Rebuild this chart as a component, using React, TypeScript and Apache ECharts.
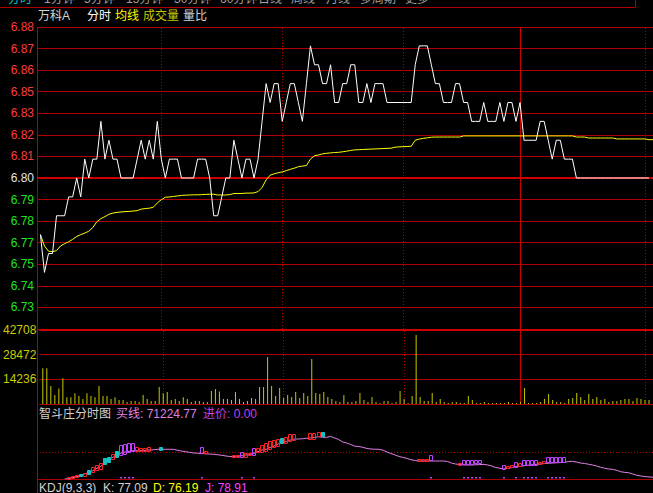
import React, { useEffect, useRef } from 'react';
import * as echarts from 'echarts';

const PRE_CLOSE = 6.8;
const STEP = 0.08 / 7;
const VOL_TICK = 14236;
const VOL_MAX = 42708;

// price per minute (index 0 = 9:30)
const price = [
  6.77, 6.75, 6.76, 6.76, 6.78, 6.78, 6.78, 6.79, 6.79, 6.80,
  6.79, 6.81, 6.80, 6.81, 6.81, 6.83, 6.81, 6.82, 6.81, 6.81,
  6.80, 6.80, 6.80, 6.80, 6.81, 6.82, 6.81, 6.82, 6.81, 6.83,
  6.81, 6.80, 6.81, 6.81, 6.81, 6.80, 6.80, 6.80, 6.80, 6.81,
  6.81, 6.81, 6.80, 6.78, 6.78, 6.79, 6.80, 6.80, 6.82, 6.81,
  6.80, 6.81, 6.81, 6.80, 6.81, 6.83, 6.85, 6.84, 6.85, 6.85,
  6.83, 6.84, 6.85, 6.85, 6.84, 6.83, 6.85, 6.87, 6.86, 6.86,
  6.85, 6.85, 6.86, 6.84, 6.84, 6.85, 6.85, 6.86, 6.86, 6.84,
  6.84, 6.85, 6.84, 6.85, 6.85, 6.85, 6.84, 6.84, 6.84, 6.84,
  6.84, 6.84, 6.84, 6.86, 6.87, 6.87, 6.87, 6.86, 6.85, 6.85,
  6.84, 6.84, 6.84, 6.85, 6.85, 6.84, 6.84, 6.83, 6.83, 6.83,
  6.84, 6.83, 6.83, 6.83, 6.84, 6.83, 6.84, 6.84, 6.83, 6.84,
  6.82, 6.82, 6.82, 6.82, 6.83, 6.83, 6.82, 6.81, 6.82, 6.82,
  6.81, 6.81, 6.81, 6.80, 6.80, 6.80, 6.80, 6.80, 6.80, 6.80,
  6.80, 6.80, 6.80, 6.80, 6.80, 6.80, 6.80, 6.80, 6.80, 6.80,
  6.80, 6.80,
];

// average price per minute
const avgPrice = [
  6.7700, 6.7640, 6.7612, 6.7610, 6.7615, 6.7640, 6.7652, 6.7662, 6.7675, 6.7690,
  6.7700, 6.7708, 6.7718, 6.7738, 6.7768, 6.7785, 6.7795, 6.7808, 6.7814, 6.7818,
  6.7820, 6.7822, 6.7823, 6.7825, 6.7827, 6.7835, 6.7838, 6.7840, 6.7845, 6.7868,
  6.7885, 6.7898, 6.7900, 6.7902, 6.7905, 6.7908, 6.7909, 6.7910, 6.7911, 6.7911,
  6.7912, 6.7913, 6.7914, 6.7914, 6.7910, 6.7910, 6.7910, 6.7912, 6.7918, 6.7918,
  6.7918, 6.7920, 6.7920, 6.7921, 6.7928, 6.7950, 6.7990, 6.8015, 6.8022, 6.8028,
  6.8032, 6.8039, 6.8046, 6.8052, 6.8060, 6.8063, 6.8066, 6.8100, 6.8118, 6.8122,
  6.8128, 6.8131, 6.8133, 6.8135, 6.8136, 6.8139, 6.8142, 6.8146, 6.8149, 6.8150,
  6.8151, 6.8152, 6.8153, 6.8154, 6.8155, 6.8156, 6.8157, 6.8158, 6.8163, 6.8165,
  6.8166, 6.8167, 6.8168, 6.8200, 6.8206, 6.8210, 6.8213, 6.8216, 6.8217, 6.8217,
  6.8217, 6.8217, 6.8217, 6.8217, 6.8217, 6.8223, 6.8223, 6.8223, 6.8223, 6.8223,
  6.8223, 6.8223, 6.8223, 6.8223, 6.8223, 6.8223, 6.8223, 6.8223, 6.8223, 6.8223,
  6.8223, 6.8223, 6.8223, 6.8223, 6.8223, 6.8223, 6.8223, 6.8223, 6.8223, 6.8223,
  6.8223, 6.8223, 6.8223, 6.8217, 6.8217, 6.8217, 6.8212, 6.8212, 6.8212, 6.8212,
  6.8212, 6.8212, 6.8212, 6.8207, 6.8207, 6.8207, 6.8207, 6.8207, 6.8207, 6.8207,
  6.8207, 6.8203, 6.8203,
];

// volume per minute
const volume = [
  20600, 20600, 10400, 5200, 9000, 14800, 3850, 3850, 6150, 4600,
  2900, 6150, 4600, 3850, 10400, 4600, 4600, 2900, 3850, 2300,
  2300, 1150, 1700, 1700, 1150, 5200, 2900, 1700, 1700, 9800,
  6150, 6900, 2300, 2900, 1700, 3850, 2900, 1150, 1700, 1700,
  1150, 1150, 7500, 8650, 7200, 2900, 2900, 2300, 6900, 2900,
  1150, 1700, 3450, 2900, 9800, 9800, 27100, 10400, 4600, 9250,
  3450, 5200, 4050, 6900, 3450, 6350, 4600, 26000, 6350, 5750,
  6900, 4050, 2900, 1700, 1150, 5200, 1150, 1150, 1700, 6350,
  2300, 1150, 4050, 1150, 600, 1700, 1700, 600, 1150, 7500,
  2900, 600, 4600, 39800, 4050, 1700, 1700, 6350, 1150, 2900,
  1150, 600, 1150, 1150, 600, 600, 4600, 2300, 600, 600,
  1150, 600, 600, 600, 600, 600, 1150, 600, 600, 1150,
  9250, 600, 600, 600, 1150, 2900, 5750, 2300, 1150, 1150,
  600, 2900, 3450, 6350, 4050, 2300, 5750, 2900, 4050, 2300,
  2900, 1150, 1700, 1700, 2300, 2900, 2900, 1700, 3450, 2900,
  2300, 2300,
];

// 智斗庄 indicator line (pane units 0..100), starts at minute 6
const zdzStart = 6;
const zdzLine = [
  0, 0.7, 1.7, 3.3,
  4.4, 6.7, 8.9, 11, 14.3, 17, 21.3, 25.3, 29, 32,
  34.7, 36, 37, 37.7, 37.7, 37.7, 38.3, 38.7, 39, 39.6,
  39.6, 39.6, 39.6, 39.6, 38.3, 37.3, 36.4, 35.6, 34.7, 34.3,
  34, 33.6, 33.2, 33, 32.3, 31.6, 30.7, 30, 29.7, 30.4,
  31, 32, 33, 34.4, 36.4, 38.7, 39.6, 42, 44, 46.7,
  48, 50, 52, 53.3, 53.3, 53.7, 54.3, 54.7, 55.3, 56.3,
  55.6, 55.6, 56.7, 54.7, 52.7, 49.3, 48, 46, 43.7, 43.3,
  42.3, 40.7, 40, 39.7, 39.6, 38.4, 36, 34, 32, 30,
  28.7, 27.3, 25.6, 24.7, 24, 24, 24, 24, 24, 24,
  24, 23.3, 21.3, 20, 19.3, 18.7, 18.7, 18.7, 19, 19.2,
  19.5, 18.7, 17.3, 15.3, 14.3, 13.3, 14.3, 15.3, 16.4, 16.7,
  17.7, 18.3, 19, 19.6, 20, 20.7, 21, 21.3, 21.6, 21.9,
  22.1, 23.3, 23.6, 22.7, 21.3, 20.7, 19.7, 18.7, 17.3, 15.6,
  14.3, 13.3, 12.9, 11.6, 9.7, 8.8, 8.3, 6.7, 4.9, 4,
  3.3, 2.7, 2.3,
];

// boxes: [minute, low, high, kind] kind 0 red hollow, 1 cyan filled, 2 magenta hollow
const zdzBoxes = [
  [7, 0, 2.3, 0], [8, 0.4, 4, 0], [9, 1.3, 5.3, 0], [10, 2.3, 6.7, 1], [11, 3.1, 8.4, 0],
  [12, 5.7, 12, 1], [13, 8.4, 16.4, 0], [14, 10.7, 18.7, 0], [15, 13, 21.7, 0], [16, 18.7, 27.6, 1],
  [17, 22, 30, 1], [18, 25, 33, 0], [19, 28, 37, 1], [20, 32, 46, 2], [21, 33, 47, 2],
  [22, 34, 47.6, 2], [23, 35, 47.6, 2], [24, 36, 43, 0], [25, 37, 42, 0], [26, 37, 42, 0],
  [27, 37, 43, 0], [30, 37.7, 43, 1], [40, 33.3, 42.2, 2], [41, 33.3, 37.7, 0], [48, 27.6, 32, 0],
  [49, 27.6, 32, 0], [50, 29, 36.4, 2], [51, 29, 35, 0], [52, 30.7, 35, 0], [53, 30.7, 41, 2],
  [54, 34, 41, 0], [55, 35, 45.3, 0], [56, 36.4, 48.4, 0], [57, 38.7, 51, 0], [58, 41, 52, 0],
  [59, 43, 53, 0], [60, 46.7, 54.3, 1], [61, 47.6, 56.4, 0], [62, 48.4, 59.6, 0], [63, 51, 60, 0],
  [67, 52, 61, 0], [68, 52, 61, 0], [69, 55.6, 62.3, 0], [70, 55.6, 62.3, 1],
  [94, 21.7, 26.3, 0], [95, 22.7, 26.3, 0], [96, 22.7, 26.3, 0], [97, 23.6, 31.6, 2],
  [104, 17.7, 21.7, 0], [105, 17.7, 25, 2], [106, 17.7, 25, 2], [107, 17.7, 25, 2], [108, 19.6, 25, 2],
  [109, 19.6, 25, 2], [115, 12, 18.3, 2], [116, 13.7, 17.3, 0], [117, 13.7, 18.3, 0], [118, 14.7, 22.7, 2],
  [119, 15.6, 21, 0], [120, 17.7, 25.3, 2], [121, 17.7, 25.3, 2], [122, 17.7, 25.3, 2], [123, 17.7, 25.3, 2],
  [124, 19, 22.7, 0], [125, 19, 23.6, 0], [126, 21, 29, 2], [127, 21, 29, 2], [128, 21, 29, 2],
  [129, 21, 29, 2], [130, 21, 29, 2],
];

const timeLines = [30, 60, 90, 150];
const middayLine = 119;

const tabs = [
  { t: '分时', x: 8, c: '#00c8c8' },
  { t: '1分钟', x: 44, c: '#a0a0a0' },
  { t: '5分钟', x: 84, c: '#a0a0a0' },
  { t: '15分钟', x: 126, c: '#a0a0a0' },
  { t: '30分钟', x: 174, c: '#a0a0a0' },
  { t: '60分钟', x: 220, c: '#a0a0a0' },
  { t: '日线', x: 258, c: '#a0a0a0' },
  { t: '周线', x: 291, c: '#a0a0a0' },
  { t: '月线', x: 326, c: '#a0a0a0' },
  { t: '多周期', x: 360, c: '#a0a0a0' },
  { t: '更多', x: 405, c: '#a0a0a0' },
];

const GRID_RED = '#b00000';
const THICK_RED = '#cc0000';
const FONT = '12px "Liberation Sans","Noto Sans CJK SC",sans-serif';
const X_MIN = -0.85;
const X_MAX = 152;

function txt(x: number, y: number, text: string, fill: string) {
  return {
    type: 'text', x, y, silent: true,
    style: { text, fill, font: FONT, align: 'left', verticalAlign: 'middle' },
  };
}

function vline(x: number, y1: number, y2: number) {
  return { type: 'line', silent: true, shape: { x1: x, y1, x2: x, y2 }, style: { stroke: GRID_RED, lineWidth: 1 } };
}

export default function App() {
  const ref = useRef<HTMLDivElement>(null);
  useEffect(() => {
    document.body.style.margin = '0';
    document.body.style.background = '#000';
    const chart = echarts.init(ref.current as HTMLDivElement, null, { renderer: 'svg' });

    const dotted = { color: GRID_RED, width: 1, type: [1, 2] as any };
    const solid = { color: GRID_RED, width: 1, type: 'solid' as any };
    const vertMarks = [
      ...timeLines.map((v) => ({ xAxis: v, lineStyle: dotted })),
      { xAxis: middayLine, lineStyle: { color: '#cc0000', width: 1, type: 'solid' } },
    ];

    const xAxisBase = { type: 'value', min: X_MIN, max: X_MAX, show: false };

    const option: any = {
      animation: false,
      backgroundColor: '#000000',
      grid: [
        { left: 37, right: 0, top: 27, height: 302 },
        { left: 37, right: 0, top: 330, height: 74 },
        { left: 37, right: 0, top: 404, height: 75 },
      ],
      xAxis: [
        { ...xAxisBase, gridIndex: 0 },
        { ...xAxisBase, gridIndex: 1 },
        { ...xAxisBase, gridIndex: 2 },
      ],
      yAxis: [
        {
          type: 'value', gridIndex: 0, min: -7, max: 7, interval: 1,
          axisLine: { show: false }, axisTick: { show: false },
          splitLine: { show: true, lineStyle: { color: GRID_RED, width: 1 } },
          axisLabel: {
            margin: 3, fontSize: 12, fontFamily: 'Liberation Sans',
            formatter: (v: number) => (Number(v) <= -7 ? '' : (PRE_CLOSE + Number(v) * STEP).toFixed(2)),
            color: (v: any) => (Number(v) > 0.01 ? '#ff3c3c' : Number(v) < -0.01 ? '#1ee61e' : '#e6e6e6'),
          },
        },
        {
          type: 'value', gridIndex: 1, min: 0, max: VOL_MAX, interval: VOL_TICK,
          axisLine: { show: false }, axisTick: { show: false },
          splitLine: { show: true, lineStyle: { color: GRID_RED, width: 1 } },
          axisLabel: {
            margin: 3, fontSize: 12, fontFamily: 'Liberation Sans', color: '#cccc00',
            formatter: (v: number) => (Number(v) === 0 ? '' : String(v)),
          },
        },
        {
          type: 'value', gridIndex: 2, min: 0, max: 100,
          axisLine: { show: false }, axisTick: { show: false },
          splitLine: { show: false }, axisLabel: { show: false },
        },
      ],
      series: [
        {
          type: 'line', xAxisIndex: 0, yAxisIndex: 0, symbol: 'none', z: 3,
          data: avgPrice.map((p, i) => [i, (p - PRE_CLOSE) / STEP]),
          lineStyle: { color: '#ffff00', width: 1 },
        },
        {
          type: 'line', xAxisIndex: 0, yAxisIndex: 0, symbol: 'none', z: 4,
          data: price.map((p, i) => [i, (p - PRE_CLOSE) / STEP]),
          lineStyle: { color: '#ffffff', width: 1 },
          markLine: {
            silent: true, symbol: 'none', label: { show: false }, z: 1,
            data: [...vertMarks, { yAxis: 0, lineStyle: { color: THICK_RED, width: 2, type: 'solid' } }],
          },
        },
        {
          type: 'bar', xAxisIndex: 1, yAxisIndex: 1, barWidth: 1, z: 3,
          data: volume.map((v, i) => [i, v]),
          itemStyle: { color: '#c8c800' },
          markLine: {
            silent: true, symbol: 'none', label: { show: false }, z: 1,
            data: [...vertMarks, { yAxis: VOL_MAX, lineStyle: { color: THICK_RED, width: 2, type: 'solid' } }],
          },
        },
        {
          type: 'line', xAxisIndex: 2, yAxisIndex: 2, symbol: 'none', z: 3,
          data: zdzLine.map((v, k) => [k + zdzStart, v]),
          lineStyle: { color: '#e080e8', width: 1 },
          markLine: {
            silent: true, symbol: 'none', label: { show: false }, z: 1,
            data: [
              { yAxis: 36, lineStyle: dotted },
              { yAxis: 0, lineStyle: solid },
            ],
          },
        },
        {
          type: 'custom', xAxisIndex: 2, yAxisIndex: 2, z: 4,
          data: zdzBoxes,
          encode: { x: 0, y: [1, 2] },
          renderItem: (params: any, api: any) => {
            const i = api.value(0);
            const lo = api.value(1);
            const hi = api.value(2);
            const kind = api.value(3);
            const top = api.coord([i, hi]);
            const bot = api.coord([i, lo]);
            const color = kind === 1 ? '#18c0c0' : kind === 2 ? '#c040ff' : '#ff2020';
            const x = Math.round(top[0]) - 1.5;
            const y = Math.round(top[1]) + 0.5;
            const h = Math.max(2, Math.round(bot[1] - top[1]) - 1);
            const children: any[] = [
              {
                type: 'rect',
                shape: { x, y, width: 3, height: h },
                style: kind === 1
                  ? { fill: color, stroke: color, lineWidth: 1 }
                  : { fill: 'none', stroke: color, lineWidth: 1 },
              },
            ];
            if (kind === 2) {
              const b = api.coord([i, 0]);
              children.push({
                type: 'rect',
                shape: { x: Math.round(b[0]) - 1, y: Math.round(b[1]) - 2, width: 2, height: 1.5 },
                style: { fill: '#c040ff' },
              });
            }
            return { type: 'group', children };
          },
        },
      ],
      graphic: [
        ...tabs.map((tb) => txt(tb.x, -1, tb.t, tb.c)),
        { type: 'line', silent: true, shape: { x1: 0, y1: 7.5, x2: 635, y2: 7.5 }, style: { stroke: GRID_RED, lineWidth: 1 } },
        vline(635.5, 0, 7.5),
        txt(38, 16, '万科A', '#d2d2d2'),
        txt(87, 16, '分时', '#ffffff'),
        txt(115, 16, '均线', '#ffff00'),
        txt(143, 16, '成交量', '#c8c800'),
        txt(183, 16, '量比', '#d2d2d2'),
        vline(37.5, 27, 493),
        txt(39, 414, '智斗庄分时图', '#d2d2d2'),
        txt(116, 414, '买线: 71224.77', '#e080e0'),
        txt(203, 414, '进价: 0.00', '#c040f0'),
        txt(39, 488, 'KDJ(9,3,3)', '#d2d2d2'),
        txt(103, 488, 'K: 77.09', '#d2d2d2'),
        txt(153, 488, 'D: 76.19', '#ffff00'),
        txt(205, 488, 'J: 78.91', '#ff40ff'),
      ],
    };

    chart.setOption(option);
    return () => chart.dispose();
  }, []);

  return <div ref={ref} style={{ width: 653, height: 493, background: '#000' }} />;
}
